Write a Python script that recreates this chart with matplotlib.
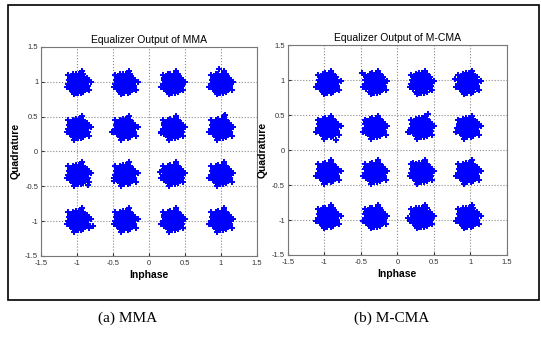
import matplotlib.pyplot as plt
from matplotlib.patches import Rectangle

# cluster centres (16-QAM)
mma_cols = [-0.98, -0.33, 0.33, 1.0]
mma_rows = [0.98, 0.33, -0.33, -0.99]
mcma_cols = [-0.95, -0.31, 0.33, 0.97]
mcma_rows = [0.96, 0.32, -0.32, -0.96]

# spread of the received symbols around each centre (estimated shape)
spread_dx = [0, 0.04, -0.04, 0, 0, 0.04, -0.04, 0.04, -0.04,
             0.08, -0.08, 0, 0, 0.07, -0.07, 0.07, -0.07, 0.05, -0.05, 0.05, -0.05,
             0.12, -0.12, 0.01, -0.01, 0.10, -0.10, 0.10, -0.10, 0.06, -0.06, 0.06, -0.06,
             0.11, -0.11, 0.11, -0.11, 0.03, -0.03, 0.03, -0.03,
             0.15, -0.14, 0.04, -0.05, 0.13, -0.12, 0.02, -0.02, 0.09, -0.09]
spread_dy = [0, 0, 0, 0.04, -0.04, 0.04, 0.04, -0.04, -0.04,
             0, 0, 0.08, -0.08, 0.05, 0.05, -0.05, -0.05, 0.07, 0.07, -0.07, -0.07,
             0.01, -0.01, 0.12, -0.12, 0.07, 0.07, -0.07, -0.07, 0.11, 0.11, -0.11, -0.11,
             0.04, -0.04, -0.04, 0.04, 0.12, -0.12, -0.12, 0.12,
             0.02, -0.05, 0.15, -0.14, -0.09, 0.10, 0.09, -0.09, 0.02, -0.02]
# the shape above is laid down at a few sizes so the clusters fill in
spread_scales = [1.15, 0.9, 0.65, 0.4]

# a few stray symbols seen outside the clusters
mma_out_x = [-0.78, -0.52, -0.85, 0.15, -0.48, 0.98, 0.17, 1.06]
mma_out_y = [-1.07, 0.28, -0.48, -0.3, -0.42, 1.18, 0.27, 0.52]
mcma_out_x = [-0.84, 0.22, 0.14, 0.79, 0.42, -0.48, 0.14, 0.81]
mcma_out_y = [0.14, -0.19, 0.26, 1.02, 0.52, 1.1, -0.97, 0.31]

titles = ['Equalizer Output of MMA', 'Equalizer Output of M-CMA']
captions = ['(a) MMA', '(b) M-CMA']
ticks = [-1.5, -1, -0.5, 0, 0.5, 1, 1.5]
tick_labels = ['-1.5', '-1', '-0.5', '0', '0.5', '1', '1.5']

plt.rcParams['font.family'] = ['Liberation Sans', 'DejaVu Sans']

fig = plt.figure(figsize=(5.41, 3.38), dpi=100)
fig.patches.append(Rectangle((0.0148, 0.112), 0.981, 0.873, transform=fig.transFigure,
                             fill=False, edgecolor='black', linewidth=1.2))

positions = [[0.0758, 0.243, 0.399, 0.618], [0.532, 0.2456, 0.405, 0.621]]
data = [(mma_cols, mma_rows, mma_out_x, mma_out_y),
        (mcma_cols, mcma_rows, mcma_out_x, mcma_out_y)]

for pos, title, (cols, rows, ox, oy) in zip(positions, titles, data):
    ax = fig.add_axes(pos)
    xs, ys = [], []
    for cy in rows:
        for cx in cols:
            for k in spread_scales:
                xs += [cx + d * k for d in spread_dx]
                ys += [cy + d * k for d in spread_dy]
    xs += ox
    ys += oy
    ax.plot(xs, ys, '+', color='#0000ff', markersize=5, markeredgewidth=1.4)
    ax.set_xlim(-1.5, 1.5)
    ax.set_ylim(-1.5, 1.5)
    ax.set_xticks(ticks)
    ax.set_xticklabels(tick_labels)
    ax.set_yticks(ticks)
    ax.set_yticklabels(tick_labels)
    ax.tick_params(direction='in', labelsize=5.5, colors='#333333', length=2)
    ax.tick_params(axis='x', pad=3)
    ax.tick_params(axis='y', pad=2)
    ax.grid(True, linestyle=':', color='#888888', linewidth=0.8)
    for s in ax.spines.values():
        s.set_color('#777777')
    ax.set_title(title, fontsize=7.5, pad=3)
    ax.set_xlabel('Inphase', fontsize=7.5, fontweight='bold', labelpad=2)
    ax.set_ylabel('Quadrature', fontsize=7.5, fontweight='bold', labelpad=3)

fig.text(0.235, 0.047, captions[0], fontsize=11, family='Liberation Serif', ha='center')
fig.text(0.723, 0.047, captions[1], fontsize=11, family='Liberation Serif', ha='center')

fig.savefig('out.png', dpi=100)
